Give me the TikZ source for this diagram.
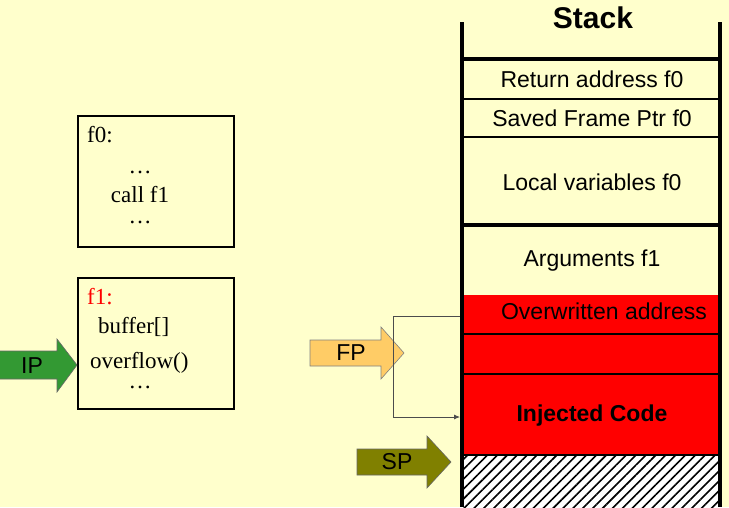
\documentclass[tikz,border=0pt]{standalone}
\usepackage{fontspec}
\setmainfont{Liberation Serif}
\setsansfont{Liberation Sans}
\usetikzlibrary{patterns.meta,arrows.meta}
\definecolor{bg}{HTML}{FFFFCC}
\definecolor{ipgreen}{HTML}{339933}
\definecolor{fporange}{HTML}{FFCC66}
\definecolor{spolive}{HTML}{808000}
\definecolor{ovred}{HTML}{FF0000}
\tikzset{
  codebox/.style={draw=black, line width=1.2pt},
  codetxt/.style={font=\fontsize{23}{25}\selectfont, inner sep=0pt},
  celltxt/.style={font=\sffamily\fontsize{23}{25}\selectfont, inner sep=0pt},
  wall/.style={line width=4pt},
  thinsep/.style={line width=1.2pt},
  ptrarrow/.style={draw=black!70, line width=0.8pt},
}
\begin{document}
\begin{tikzpicture}[x=1pt,y=-1pt]
\fill[bg] (0,0) rectangle (729,507);
\useasboundingbox (0,0) rectangle (729,507);

% code boxes
\draw[codebox] (78,116) rectangle (234,247);
\draw[codebox] (78,278) rectangle (234,409);
\node[codetxt, anchor=base west] (f0lbl) at (87,142) {f0:};
\node[codetxt, anchor=base] (f0d1) at (140,173) {\dots};
\node[codetxt, anchor=base] (f0call) at (140,202) {call f1};
\node[codetxt, anchor=base] (f0d2) at (140,223) {\dots};
\node[codetxt, anchor=base west, text=ovred] (f1lbl) at (87,304) {f1:};
\node[codetxt, anchor=base west] (f1buf) at (98,333) {buffer[]};
\node[codetxt, anchor=base west] (f1ovf) at (90,368) {overflow()};
\node[codetxt, anchor=base] (f1d) at (140,388) {\dots};

% stack fills
\fill[ovred] (462,295) rectangle (720,455);
\fill[white] (462,455) rectangle (720,507);
\fill[pattern={Lines[angle=45,distance=7pt,line width=1.6pt]}] (462,455) rectangle (720,507);
\draw[thinsep] (462,455) -- (720,455);

% stack separators
\draw[wall] (462,59) -- (720,59);
\draw[wall] (462,225) -- (720,225);
\draw[thinsep] (462,99) -- (720,99);
\draw[thinsep] (462,137) -- (720,137);
\draw[thinsep] (462,334) -- (720,334);
\draw[thinsep] (462,374) -- (720,374);
% walls
\draw[wall] (462,22) -- (462,507);
\draw[wall] (720,22) -- (720,507);

% stack texts
\node[font=\sffamily\bfseries\fontsize{30}{32}\selectfont, inner sep=0pt] (stack) at (593,18) {Stack};
\node[celltxt] (ret) at (592,79) {Return address f0};
\node[celltxt] (sfp) at (592,118) {Saved Frame Ptr f0};
\node[celltxt] (loc) at (592,182) {Local variables f0};
\node[celltxt] (arg) at (592,261) {Arguments f1};
\node[celltxt] (ovw) at (604,311) {Overwritten address};
\node[celltxt, font=\sffamily\bfseries\fontsize{23}{25}\selectfont] (inj) at (592,416) {Injected Code};

% IP arrow
\draw[fill=ipgreen, draw=black!60, line width=0.6pt]
  (-2,351) -- (57,351) -- (57,339) -- (77,365) -- (57,392) -- (57,379) -- (-2,379) -- cycle;
\node[celltxt] (ip) at (32,366) {IP};

% FP arrow
\draw[fill=fporange, draw=black!50, line width=0.6pt]
  (310,340) -- (381,340) -- (381,327) -- (404,353) -- (381,379) -- (381,366) -- (310,366) -- cycle;
\node[celltxt] (fp) at (351,353) {FP};

% SP arrow
\draw[fill=spolive, draw=black!60, line width=0.6pt]
  (357,449) -- (427,449) -- (427,436) -- (451,462) -- (427,488) -- (427,475) -- (357,475) -- cycle;
\node[celltxt] (sp) at (397,462) {SP};

% FP pointer line
\coordinate (fpsrc) at (460,316);
\coordinate (fpdst) at (460,417);
\draw[ptrarrow, -{Latex[length=6pt,width=5pt]}] (fpsrc) -- (393,316) -- (393,417) -- (fpdst);
\end{tikzpicture}
\end{document}
